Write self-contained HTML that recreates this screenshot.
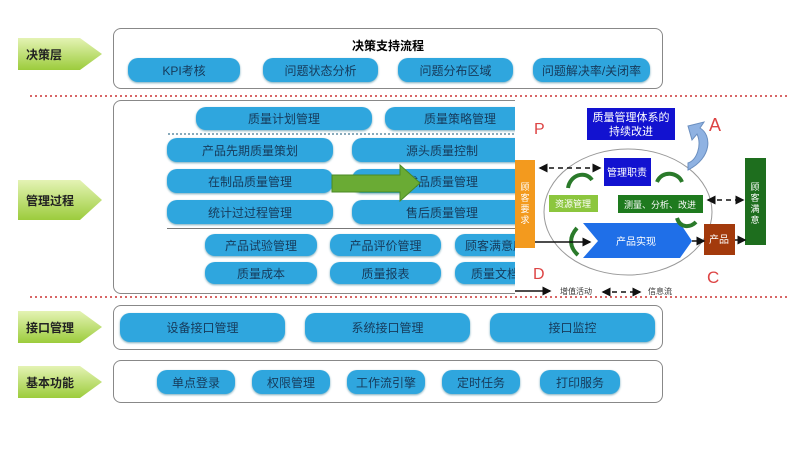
<!DOCTYPE html>
<html><head><meta charset="utf-8"><style>
body{margin:0;width:800px;height:452px;background:#fff;position:relative;overflow:hidden;font-family:"Liberation Sans","Noto Sans CJK SC",sans-serif;}
.a{position:absolute;box-sizing:border-box}
.box{border:1.5px solid #888;border-radius:8px;background:#fff}
.pill{background:#2fa6de;color:#163a5a;border-radius:10px;font-size:12px;display:flex;align-items:center;justify-content:center;box-shadow:0 1px 2px #7ab}
.lbl{font-size:12px;font-weight:bold;color:#222;display:flex;align-items:center;padding-left:8px}
</style></head><body>
<svg class="a" style="left:0;top:0" width="800" height="452">
<defs><linearGradient id="g" x1="0" x2="0" y1="0" y2="1"><stop offset="0" stop-color="#e4f3b4"/><stop offset="1" stop-color="#9ccc3c"/></linearGradient></defs>
<polygon points="18,38 80,38 102,54 80,70 18,70" fill="url(#g)"/>
<polygon points="18,180 80,180 102,200 80,220 18,220" fill="url(#g)"/>
<polygon points="18,311 80,311 102,327 80,343 18,343" fill="url(#g)"/>
<polygon points="18,366 80,366 102,382 80,398 18,398" fill="url(#g)"/>
<line x1="30" y1="96" x2="790" y2="96" stroke="#c33" stroke-width="1.5" stroke-dasharray="2,3"/>
<line x1="30" y1="297" x2="790" y2="297" stroke="#c33" stroke-width="1.5" stroke-dasharray="2,3"/>
</svg>
<div class="a lbl" style="left:18px;top:38px;height:32px">决策层</div>
<div class="a lbl" style="left:18px;top:180px;height:40px">管理过程</div>
<div class="a lbl" style="left:18px;top:311px;height:32px">接口管理</div>
<div class="a lbl" style="left:18px;top:366px;height:32px">基本功能</div>

<div class="a box" style="left:113px;top:28px;width:550px;height:61px"></div>
<div class="a" style="left:113px;top:37px;width:550px;text-align:center;font-size:12px;font-weight:bold">决策支持流程</div>
<div class="a pill" style="left:128px;top:58px;width:112px;height:24px">KPI考核</div>
<div class="a pill" style="left:263px;top:58px;width:115px;height:24px">问题状态分析</div>
<div class="a pill" style="left:398px;top:58px;width:115px;height:24px">问题分布区域</div>
<div class="a pill" style="left:533px;top:58px;width:117px;height:24px">问题解决率/关闭率</div>

<div class="a box" style="left:113px;top:100px;width:430px;height:194px"></div>
<div class="a pill" style="left:196px;top:107px;width:176px;height:23px">质量计划管理</div>
<div class="a pill" style="left:385px;top:107px;width:150px;height:23px">质量策略管理</div>
<div class="a" style="left:168px;top:133px;width:350px;border-top:2px dotted #8ab"></div>
<div class="a pill" style="left:167px;top:138px;width:166px;height:24px">产品先期质量策划</div>
<div class="a pill" style="left:352px;top:138px;width:180px;height:24px">源头质量控制</div>
<div class="a pill" style="left:167px;top:169px;width:166px;height:24px">在制品质量管理</div>
<div class="a pill" style="left:352px;top:169px;width:180px;height:24px">成品质量管理</div>
<div class="a pill" style="left:167px;top:200px;width:166px;height:24px">统计过过程管理</div>
<div class="a pill" style="left:352px;top:200px;width:180px;height:24px">售后质量管理</div>
<div class="a" style="left:167px;top:228px;width:350px;border-top:1.5px solid #777"></div>
<div class="a pill" style="left:205px;top:234px;width:112px;height:22px">产品试验管理</div>
<div class="a pill" style="left:330px;top:234px;width:111px;height:22px">产品评价管理</div>
<div class="a pill" style="left:455px;top:234px;width:80px;height:22px">顾客满意度</div>
<div class="a pill" style="left:205px;top:262px;width:112px;height:22px">质量成本</div>
<div class="a pill" style="left:330px;top:262px;width:111px;height:22px">质量报表</div>
<div class="a pill" style="left:455px;top:262px;width:80px;height:22px">质量文档</div>
<svg class="a" style="left:0;top:0" width="800" height="452">
<polygon points="332,175 400,175 400,165 420,183 400,201 400,192 332,192" fill="#6aab34" stroke="#4a8a25"/>
</svg>

<div class="a" style="left:515px;top:100px;width:285px;height:196px;background:#fff"></div>
<svg class="a" style="left:0;top:0" width="800" height="452" font-family="Liberation Sans,Noto Sans CJK SC,sans-serif">
<defs><marker id="m" markerWidth="6" markerHeight="6" refX="5" refY="3" orient="auto"><path d="M0,0L6,3L0,6z" fill="#111"/></marker>
<marker id="ms" markerWidth="6" markerHeight="6" refX="1" refY="3" orient="auto"><path d="M6,0L0,3L6,6z" fill="#111"/></marker></defs>
<text x="534" y="134" font-size="16" fill="#d44">P</text>
<text x="709" y="131" font-size="18" fill="#d44">A</text>
<text x="533" y="279" font-size="16" fill="#d44">D</text>
<text x="707" y="283" font-size="17" fill="#d44">C</text>
<ellipse cx="628" cy="212" rx="84" ry="63" fill="none" stroke="#999"/>
<rect x="587" y="108" width="88" height="32" fill="#1212d0"/>
<text x="631" y="121" font-size="11" fill="#fff" text-anchor="middle">质量管理体系的</text>
<text x="631" y="135" font-size="11" fill="#fff" text-anchor="middle">持续改进</text>
<path d="M688,170 C712,158 712,135 700,128 L704,122 L688,126 L692,140 L697,134 C702,145 697,160 688,163 Z" fill="#8fb2e2" stroke="#6b8fc0"/>
<rect x="515" y="160" width="20" height="88" fill="#f39a1e"/>
<g font-size="9" fill="#fff" text-anchor="middle"><text x="525" y="190">顾</text><text x="525" y="201">客</text><text x="525" y="212">要</text><text x="525" y="223">求</text></g>
<rect x="604" y="158" width="47" height="28" fill="#1212d0"/>
<text x="627" y="176" font-size="10" fill="#fff" text-anchor="middle">管理职责</text>
<rect x="549" y="195" width="49" height="17" fill="#8cc63e"/>
<text x="573" y="207" font-size="9" fill="#fff" text-anchor="middle">资源管理</text>
<rect x="618" y="195" width="85" height="18" fill="#1e7a1e"/>
<text x="660" y="208" font-size="9" fill="#fff" text-anchor="middle">测量、分析、改进</text>
<polygon points="583,223 680,223 692,241 680,258 583,258 598,241" fill="#1f6fe8"/>
<text x="636" y="245" font-size="10" fill="#fff" text-anchor="middle">产品实现</text>
<rect x="704" y="224" width="31" height="31" fill="#a33a0c"/>
<text x="719" y="243" font-size="10" fill="#fff" text-anchor="middle">产品</text>
<rect x="745" y="158" width="21" height="87" fill="#1e6e1e"/>
<g font-size="9" fill="#fff" text-anchor="middle"><text x="755" y="190">顾</text><text x="755" y="201">客</text><text x="755" y="212">满</text><text x="755" y="223">意</text></g>
<path d="M568,188 C570,175 585,170 592,180" fill="none" stroke="#2a7a2a" stroke-width="4"/>
<path d="M657,182 C662,170 678,172 682,182" fill="none" stroke="#2a7a2a" stroke-width="4"/>
<path d="M677,218 C680,228 690,228 696,222" fill="none" stroke="#2a7a2a" stroke-width="4"/>
<path d="M577,228 C568,238 570,248 578,255" fill="none" stroke="#2a7a2a" stroke-width="4"/>
<line x1="540" y1="168" x2="600" y2="168" stroke="#111" stroke-width="1.5" stroke-dasharray="5,4" marker-end="url(#m)" marker-start="url(#ms)"/>
<line x1="708" y1="200" x2="743" y2="200" stroke="#111" stroke-width="1.5" stroke-dasharray="5,4" marker-end="url(#m)" marker-start="url(#ms)"/>
<line x1="535" y1="242" x2="590" y2="242" stroke="#111" stroke-width="1.5" marker-end="url(#m)"/>
<line x1="692" y1="241" x2="704" y2="241" stroke="#111" stroke-width="1.5" marker-end="url(#m)"/>
<line x1="735" y1="240" x2="745" y2="240" stroke="#111" stroke-width="1.5" marker-end="url(#m)"/>
<line x1="515" y1="291" x2="550" y2="291" stroke="#111" stroke-width="1.5" marker-end="url(#m)"/>
<text x="560" y="294" font-size="8" fill="#333">增值活动</text>
<line x1="603" y1="292" x2="640" y2="292" stroke="#111" stroke-width="1.5" stroke-dasharray="5,4" marker-end="url(#m)" marker-start="url(#ms)"/>
<text x="648" y="294" font-size="8" fill="#333">信息流</text>
</svg>

<div class="a box" style="left:113px;top:305px;width:550px;height:45px"></div>
<div class="a pill" style="left:120px;top:313px;width:165px;height:29px">设备接口管理</div>
<div class="a pill" style="left:305px;top:313px;width:165px;height:29px">系统接口管理</div>
<div class="a pill" style="left:490px;top:313px;width:165px;height:29px">接口监控</div>

<div class="a box" style="left:113px;top:360px;width:550px;height:43px"></div>
<div class="a pill" style="left:157px;top:370px;width:78px;height:24px">单点登录</div>
<div class="a pill" style="left:252px;top:370px;width:78px;height:24px">权限管理</div>
<div class="a pill" style="left:347px;top:370px;width:78px;height:24px">工作流引擎</div>
<div class="a pill" style="left:442px;top:370px;width:78px;height:24px">定时任务</div>
<div class="a pill" style="left:540px;top:370px;width:80px;height:24px">打印服务</div>
</body></html>
